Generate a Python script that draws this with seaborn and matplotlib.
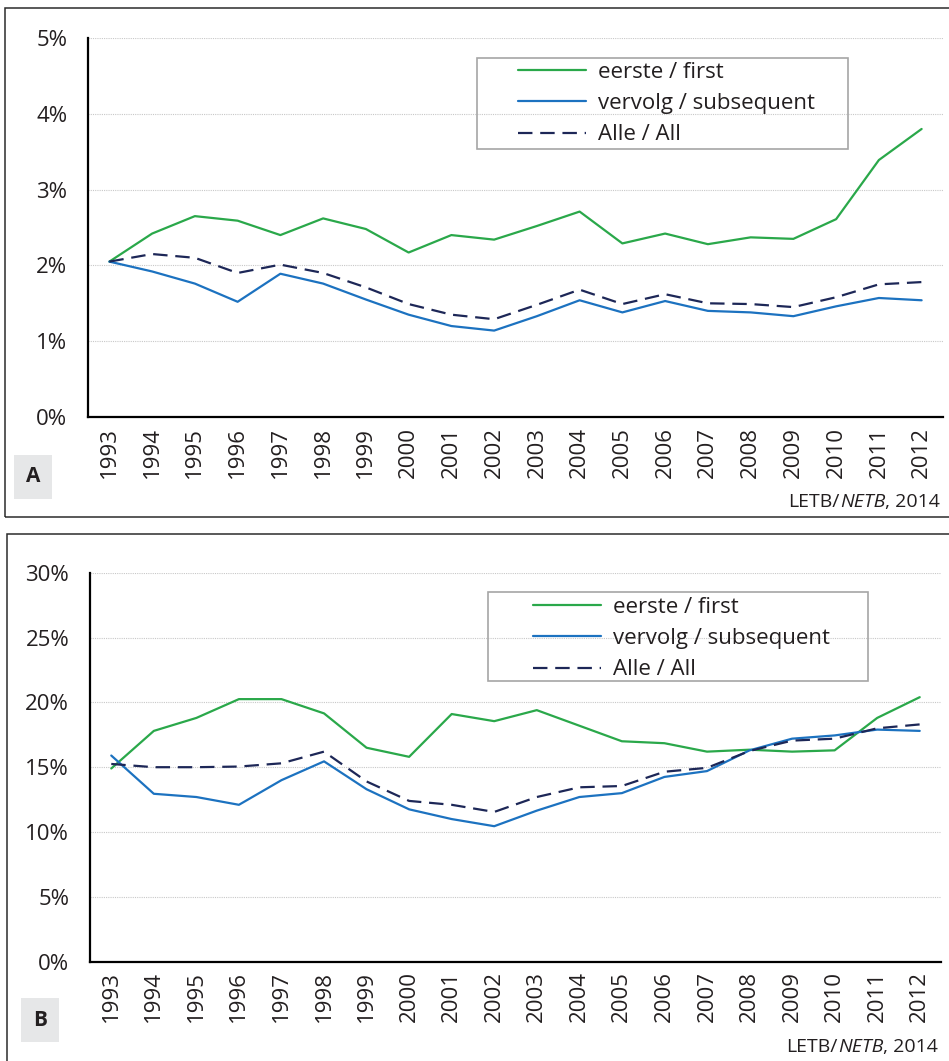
import matplotlib
matplotlib.use("Agg")
import numpy as np
import pandas as pd
import seaborn as sns
import matplotlib.pyplot as plt
from matplotlib.patches import Rectangle
from matplotlib.lines import Line2D
from matplotlib.ticker import FixedLocator, FuncFormatter

years = ["1993", "1994", "1995", "1996", "1997", "1998", "1999", "2000", "2001", "2002",
         "2003", "2004", "2005", "2006", "2007", "2008", "2009", "2010", "2011", "2012"]
labels = ["eerste / first", "vervolg / subsequent", "Alle / All"]

# panel A (%)
first_a = [2.05, 2.42, 2.65, 2.59, 2.40, 2.62, 2.48, 2.17, 2.40, 2.34,
           2.52, 2.71, 2.29, 2.42, 2.28, 2.37, 2.35, 2.61, 3.39, 3.80]
subseq_a = [2.05, 1.92, 1.76, 1.52, 1.89, 1.76, 1.55, 1.35, 1.20, 1.14,
            1.33, 1.54, 1.38, 1.53, 1.40, 1.38, 1.33, 1.46, 1.57, 1.54]
all_a = [2.05, 2.15, 2.10, 1.90, 2.01, 1.90, 1.71, 1.49, 1.35, 1.29,
         1.48, 1.68, 1.49, 1.62, 1.50, 1.49, 1.45, 1.58, 1.75, 1.78]

# panel B (%)
first_b = [14.9, 17.8, 18.8, 20.25, 20.25, 19.15, 16.5, 15.8, 19.1, 18.55,
           19.4, 18.2, 17.0, 16.85, 16.2, 16.35, 16.2, 16.3, 18.8, 20.4]
subseq_b = [15.9, 12.95, 12.7, 12.1, 14.0, 15.45, 13.3, 11.75, 11.0, 10.45,
            11.65, 12.7, 13.0, 14.25, 14.7, 16.3, 17.2, 17.45, 17.9, 17.8]
all_b = [15.25, 15.0, 15.0, 15.05, 15.3, 16.2, 13.9, 12.4, 12.1, 11.55,
         12.7, 13.45, 13.55, 14.65, 14.95, 16.25, 17.05, 17.2, 18.0, 18.3]

colors = {labels[0]: "#2aa84a", labels[1]: "#1c72c0", labels[2]: "#1d2757"}
dashes = {labels[0]: "", labels[1]: "", labels[2]: (6.5, 3.5)}
text_col = "#231f20"

sns.set_style("white")
plt.rcParams["font.family"] = ["Open Sans", "DejaVu Sans"]

W, H = 949, 1061
fig = plt.figure(figsize=(W / 100, H / 100), dpi=100)


def fx(x):
    return x / W


def fy(y):
    return 1 - y / H


def box(x0, y0, x1, y1):
    return [fx(x0), fy(y1), (x1 - x0) / W, (y1 - y0) / H]


def panel(rect, first, subseq, allv, ymax, ystep, leg_rect, leg_anchor):
    ax = fig.add_axes(box(*rect))
    n = len(years)
    df = pd.DataFrame({
        "pos": list(range(n)) * 3,
        "value": first + subseq + allv,
        "series": [labels[0]] * n + [labels[1]] * n + [labels[2]] * n,
    })
    sns.lineplot(data=df, x="pos", y="value", hue="series", style="series",
                 palette=colors, dashes=dashes, hue_order=labels, style_order=labels,
                 linewidth=1.6, legend=False, ax=ax)
    ax.set_xlim(-0.5, n - 0.5)
    ax.set_ylim(0, ymax)
    ax.set_xlabel("")
    ax.set_ylabel("")
    ax.xaxis.set_major_locator(FixedLocator(range(n)))
    ax.set_xticklabels(years, rotation=90)
    ax.xaxis.set_minor_locator(FixedLocator(np.arange(n + 1) - 0.5))
    ax.tick_params(axis="x", which="major", length=0, pad=7, labelsize=16, labelcolor=text_col)
    ax.tick_params(axis="x", which="minor", length=6, width=1.2, color="black", direction="out")
    ax.yaxis.set_major_locator(FixedLocator(np.arange(0, ymax + 0.01, ystep)))
    ax.yaxis.set_major_formatter(FuncFormatter(lambda v, p: f"{v:.0f}%"))
    ax.tick_params(axis="y", length=0, pad=15, labelsize=16, labelcolor=text_col)
    ax.yaxis.grid(True, color="#c8c8c8", linestyle=(0, (1, 1)), linewidth=0.8)
    ax.set_axisbelow(True)
    for s in ["top", "right"]:
        ax.spines[s].set_visible(False)
    for s in ["left", "bottom"]:
        ax.spines[s].set_color("black")
        ax.spines[s].set_linewidth(1.6)
    ax.patch.set_alpha(0)

    handles = [Line2D([], [], color=colors[l], lw=1.6,
                      linestyle=(0, dashes[l]) if dashes[l] else "-") for l in labels]
    fig.legend(handles, labels, loc="upper left", bbox_to_anchor=(fx(leg_anchor[0]), fy(leg_anchor[1])),
               frameon=False, fontsize=16, borderpad=0, borderaxespad=0,
               handlelength=3.05, handletextpad=0.55, labelspacing=0.46, labelcolor=text_col)
    x0, y0, x1, y1 = leg_rect
    fig.patches.append(Rectangle((fx(x0), fy(y1)), (x1 - x0) / W, (y1 - y0) / H,
                                 transform=fig.transFigure, fill=False,
                                 edgecolor="#a6a6a6", linewidth=1.2))
    return ax


# outer panel frames
fig.patches.append(Rectangle((fx(5), fy(517)), (960 - 5) / W, (517 - 8) / H,
                             transform=fig.transFigure, fill=False, edgecolor="#2b2b2b", linewidth=1.1))
fig.patches.append(Rectangle((fx(7), fy(1080)), (960 - 7) / W, (1080 - 534) / H,
                             transform=fig.transFigure, fill=False, edgecolor="#2b2b2b", linewidth=1.1))

panel((88, 38, 943, 417), first_a, subseq_a, all_a, 5, 1,
      (476.7, 57.7, 848.3, 149), (518, 62))
panel((90, 572.7, 941, 961.7), first_b, subseq_b, all_b, 30, 5,
      (488, 592, 868, 680.7), (533, 597))

# panel letters
for (x0, y0, x1, y1), letter in [((14, 455, 52, 499), "A"), ((21, 998, 59, 1042), "B")]:
    fig.patches.append(Rectangle((fx(x0), fy(y1)), (x1 - x0) / W, (y1 - y0) / H,
                                 transform=fig.transFigure, facecolor="#e6e7e8", edgecolor="none"))
    fig.text(fx((x0 + x1) / 2), fy((y0 + y1) / 2), letter, ha="center", va="center",
             fontsize=15, fontweight="bold", color=text_col)

# source notes
r = fig.canvas.get_renderer()
for xr, yb in [(940, 507), (938, 1052)]:
    t3 = fig.text(fx(xr), fy(yb), ", 2014", ha="right", va="baseline", fontsize=14, color=text_col)
    bb = t3.get_window_extent(r)
    t2 = fig.text(bb.x0 / W, fy(yb), "NETB", style="italic", ha="right", va="baseline",
                  fontsize=14, color=text_col)
    bb2 = t2.get_window_extent(r)
    fig.text(bb2.x0 / W, fy(yb), "LETB/", ha="right", va="baseline", fontsize=14, color=text_col)

fig.savefig("out.png", dpi=100)
